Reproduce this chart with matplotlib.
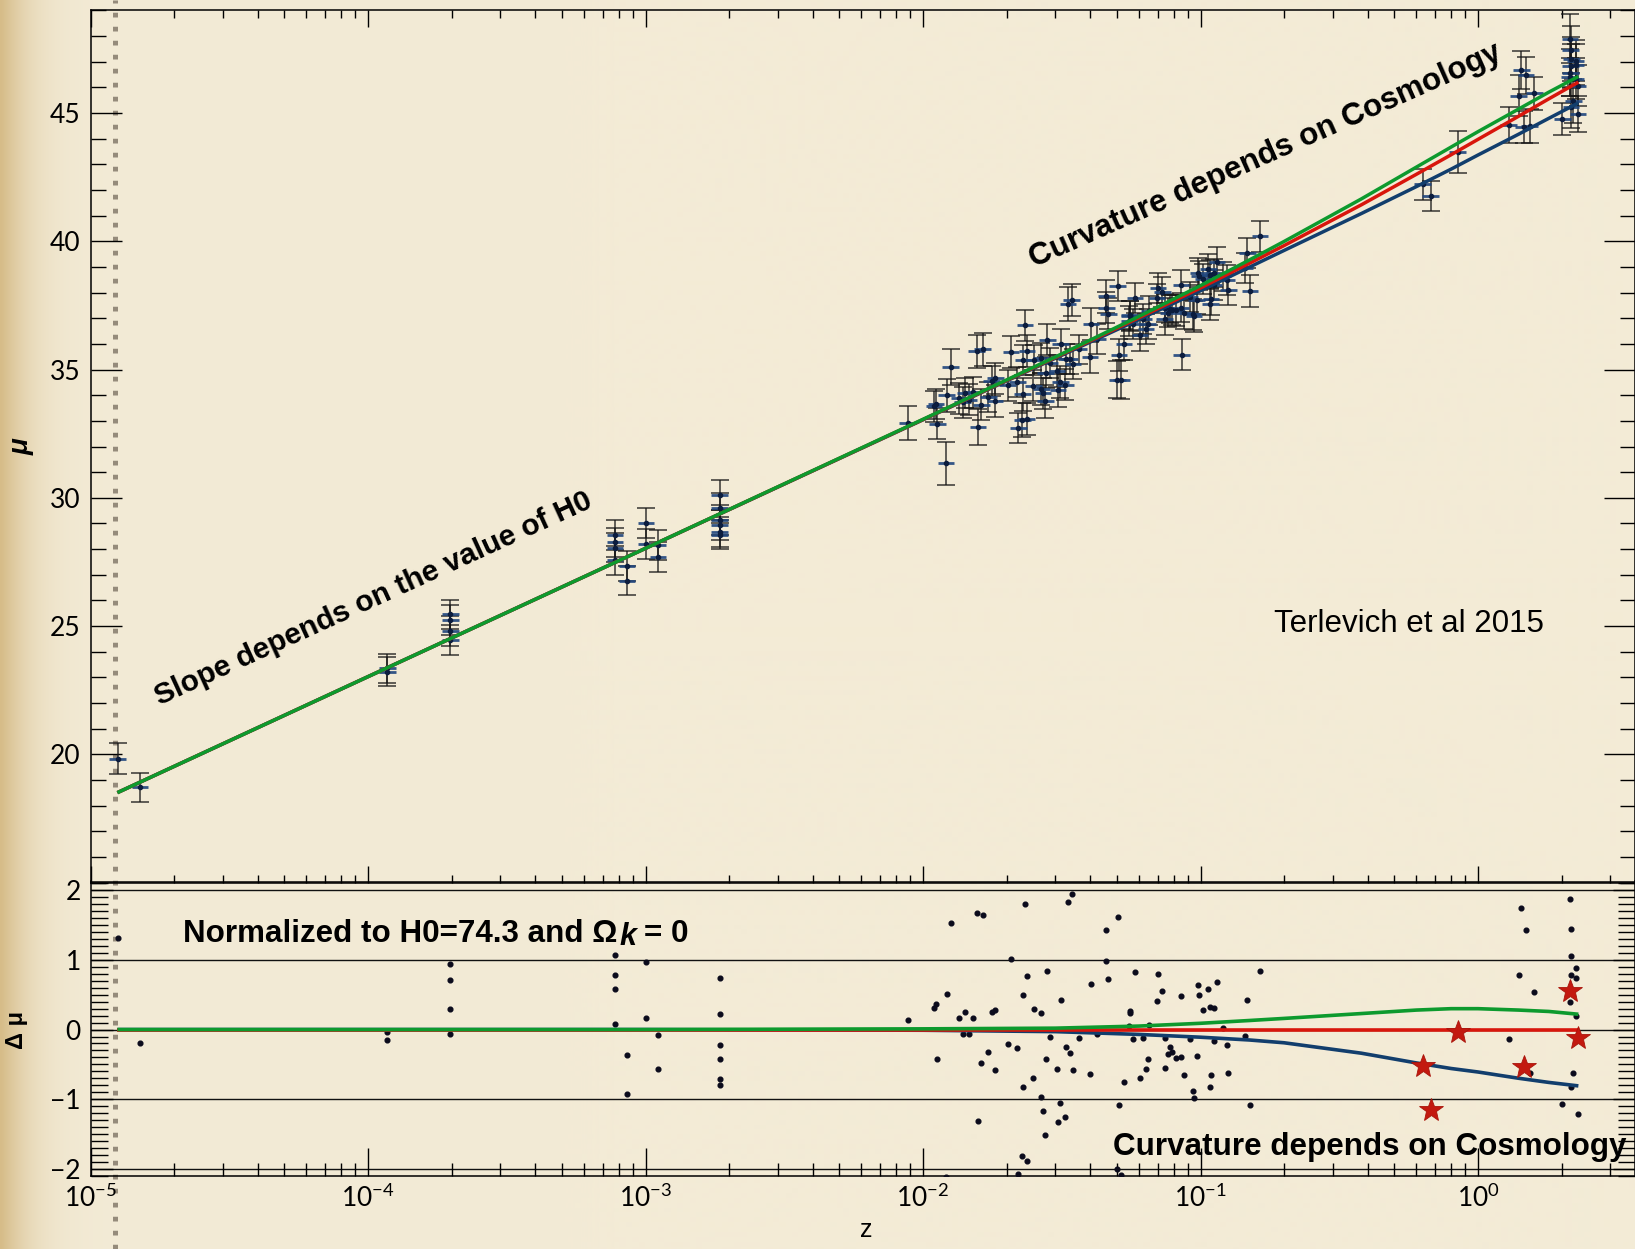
import numpy as np
import matplotlib
matplotlib.use('Agg')
import matplotlib.pyplot as plt
from matplotlib.lines import Line2D
from matplotlib.ticker import MultipleLocator, LogLocator, NullFormatter, FixedLocator

plt.rcParams['font.family'] = ['Lato', 'DejaVu Sans']
plt.rcParams['mathtext.fontset'] = 'custom'
plt.rcParams['mathtext.rm'] = 'Lato'
plt.rcParams['mathtext.it'] = 'Lato:italic'
plt.rcParams['mathtext.bf'] = 'Lato:bold'

# ---------------- data ----------------
# model curves: redshift grid and distance modulus for the three cosmologies
z_model = [1.25e-5, 1e-4, 1e-3, 1e-2, 0.03, 0.06, 0.1, 0.15, 0.2, 0.38, 0.6, 0.8, 1.0, 1.4, 1.8, 2.3]
mu_red = [18.51, 23.03, 28.03, 33.05, 35.47, 37.02, 38.18, 39.14, 39.83, 41.42, 42.61, 43.37, 43.97, 44.87, 45.55, 46.20]
mu_green = [18.51, 23.03, 28.03, 33.06, 35.49, 37.07, 38.27, 39.27, 39.99, 41.65, 42.89, 43.67, 44.27, 45.15, 45.81, 46.42]
mu_blue = [18.51, 23.03, 28.03, 33.04, 35.44, 36.95, 38.07, 38.99, 39.64, 41.08, 42.13, 42.81, 43.36, 44.17, 44.79, 45.39]
dmu_green = [0, 0, 0, 0.01, 0.02, 0.05, 0.09, 0.13, 0.16, 0.23, 0.28, 0.30, 0.30, 0.28, 0.26, 0.22]
dmu_red = [0, 0, 0, 0, 0, 0, 0, 0, 0, 0, 0, 0, 0, 0, 0, 0]
dmu_blue = [0, 0, 0, -0.01, -0.03, -0.07, -0.11, -0.15, -0.19, -0.34, -0.48, -0.56, -0.61, -0.70, -0.76, -0.81]

# local calibrators (z < 0.003): redshift, residual, error
loc_z = [1.253e-5, 1.507e-5, 1.175e-4, 1.175e-4, 1.982e-4, 1.982e-4, 1.982e-4, 1.982e-4,
         7.76e-4, 7.76e-4, 7.76e-4, 7.76e-4, 8.57e-4, 8.57e-4, 1.005e-3, 1.005e-3,
         1.109e-3, 1.109e-3, 1.849e-3, 1.849e-3, 1.849e-3, 1.849e-3, 1.849e-3, 1.849e-3]
loc_dmu = [1.31, -0.20, -0.03, -0.15, 0.94, 0.71, 0.30, -0.06, 1.07, 0.78, 0.58, 0.08,
           -0.36, -0.92, 0.97, 0.16, -0.08, -0.57, 0.74, 0.23, -0.22, -0.42, -0.71, -0.80]
loc_err = [0.60, 0.56, 0.55, 0.55, 0.58, 0.58, 0.58, 0.58, 0.58, 0.58, 0.58, 0.58,
           0.58, 0.58, 0.58, 0.58, 0.58, 0.58, 0.58, 0.58, 0.58, 0.58, 0.58, 0.58]

# HII galaxies (0.008 < z < 0.2)
hii_z = [0.00881, 0.01096, 0.01114, 0.01216, 0.01259, 0.01127, 0.01352, 0.01422, 0.01390, 0.01459,
         0.01510, 0.01563, 0.01641, 0.01622, 0.01722, 0.01770, 0.01824, 0.01820, 0.01578, 0.02018,
         0.02075, 0.02188, 0.02291, 0.02371, 0.02333, 0.02286, 0.02280, 0.02366, 0.02203, 0.02495,
         0.02518, 0.02661, 0.02673, 0.02710, 0.02761, 0.02767, 0.02805, 0.02871, 0.03041, 0.03069,
         0.03133, 0.03126, 0.03258, 0.03273, 0.03381, 0.03334, 0.03436, 0.03475, 0.03639, 0.03999,
         0.04036, 0.04246, 0.04581, 0.04581, 0.04656, 0.05035, 0.05082, 0.05297, 0.05559, 0.05559,
         0.05702, 0.05808, 0.06053, 0.05012, 0.05188, 0.01211, 0.05534,
         0.06223, 0.06471, 0.06546, 0.06353, 0.06966, 0.07031, 0.07295, 0.07430, 0.07464, 0.07638,
         0.07780, 0.07925, 0.08147, 0.08472, 0.08511, 0.08750, 0.09162, 0.09397, 0.09484, 0.09683,
         0.09817, 0.09886, 0.10233, 0.10666, 0.10789, 0.11220, 0.11194, 0.10914, 0.10864, 0.11482,
         0.12023, 0.12474, 0.12589, 0.14421, 0.14757, 0.15101, 0.16406, 0.0855]
hii_dmu = [0.14, 0.31, 0.37, 0.51, 1.53, -0.42, 0.17, 0.25, -0.06, -0.06,
           0.16, 1.67, 1.65, -0.48, -0.32, 0.25, 0.28, -0.58, -1.31, -0.21,
           1.02, -0.26, 0.50, 0.77, 1.80, -0.83, -1.82, -1.89, -2.07, -0.69,
           0.29, 0.24, -0.97, -1.17, -1.52, -0.42, 0.84, -0.11, -0.56, -1.33,
           0.43, -1.05, -1.25, -0.25, -0.33, 1.84, 1.95, -0.58, -0.12, -0.64,
           0.65, -0.06, 1.43, 0.99, 0.72, 1.62, -1.08, -0.76, 0.27, 0.24,
           -0.13, 0.83, -0.70, -2.01, -2.09, -2.12, 0.05,
           -0.12, -0.42, 0.07, -0.57, 0.41, 0.80, 0.56, -0.55, -0.12, -0.35,
           -0.25, -0.32, -0.41, -0.39, 0.48, -0.66, -0.14, -0.89, -0.99, -0.38,
           0.64, 0.50, 0.28, 0.58, 0.33, 0.31, -0.16, -0.65, -0.83, 0.69,
           0.02, -0.22, -0.62, -0.09, 0.43, -1.08, 0.84, -2.24]
hii_err = [0.66, 0.62, 0.60, 0.64, 0.70, 0.62, 0.60, 0.58, 0.62, 0.60,
           0.60, 0.66, 0.64, 0.62, 0.60, 0.58, 0.60, 0.62, 0.70, 0.60,
           0.62, 0.60, 0.58, 0.62, 0.61, 0.64, 0.66, 0.62, 0.60, 0.62,
           0.58, 0.60, 0.62, 0.60, 0.64, 0.60, 0.60, 0.58, 0.62, 0.64,
           0.60, 0.62, 0.60, 0.58, 0.60, 0.66, 0.62, 0.60, 0.58, 0.60,
           0.62, 0.58, 0.64, 0.60, 0.60, 0.58, 0.62, 0.60, 0.56, 0.58,
           0.60, 0.58, 0.60, 0.72, 0.75, 0.84, 0.58,
           0.58, 0.60, 0.56, 0.60, 0.58, 0.60, 0.58, 0.62, 0.56, 0.58,
           0.56, 0.58, 0.60, 0.58, 0.60, 0.62, 0.58, 0.60, 0.60, 0.58,
           0.58, 0.56, 0.58, 0.60, 0.56, 0.56, 0.58, 0.60, 0.62, 0.58,
           0.56, 0.58, 0.60, 0.60, 0.58, 0.62, 0.60, 0.60]

# high-redshift HII galaxies
hz_z = [1.432, 1.489, 1.403, 1.596, 1.291, 1.535, 2.148, 2.158, 2.168, 2.249, 2.158, 2.254,
        2.138, 2.249, 2.203, 2.163, 2.014, 2.296]
hz_dmu = [1.74, 1.43, 0.79, 0.54, -0.13, -0.63, 1.87, 1.44, 1.05, 0.89, 0.79, 0.74,
          0.40, 0.20, -0.63, -0.82, -1.07, -1.22]
hz_err = [0.75, 0.72, 0.80, 0.65, 0.70, 0.66, 0.95, 0.90, 0.85, 0.80, 0.85, 0.80,
          0.75, 0.80, 0.85, 0.80, 0.62, 0.70]

# objects marked with red stars in the residual panel
st_z = [0.632, 0.676, 0.845, 1.462, 2.153, 2.286]
st_dmu = [-0.53, -1.16, -0.04, -0.54, 0.55, -0.12]
st_err = [0.60, 0.60, 0.80, 0.62, 0.90, 0.80]

upper_yticks = [20, 25, 30, 35, 40, 45]
lower_yticks = [-2, -1, 0, 1, 2]
lower_grid = [-2, -1, 0, 1, 2]

# ---------------- styling ----------------
W, H = 1635, 1249
BEIGE = np.array([243, 235, 214]) / 255.0
TAN = np.array([214, 188, 136]) / 255.0
C_GREEN = '#0d9a2e'
C_RED = '#d8160c'
C_BLUE = '#123e6d'
C_NAVY = '#0c1d3e'
C_XERR = '#1f457d'
C_STAR = '#c3190f'
XERR_DEX = 0.03

fig = plt.figure(figsize=(W / 100, H / 100), dpi=100)
fig.patch.set_facecolor(BEIGE)

# parchment background with darker left edge
bg = fig.add_axes([0, 0, 1, 1], zorder=-10)
xs = np.arange(W)
t = np.exp(-(xs / 30.0) ** 1.2)
grad = BEIGE[None, :] * (1 - t[:, None]) + TAN[None, :] * t[:, None]
bg.imshow(grad[None, :, :], aspect='auto', extent=[0, 1, 0, 1])
bg.set_axis_off()

# dotted slide decoration
fig.add_artist(Line2D([115 / W, 115 / W], [0, 1], transform=fig.transFigure,
                      color='#857b6c', lw=3.6, linestyle=(0, (0.95, 1.85)), alpha=0.85,
                      zorder=-5))

LPX, RPX = 90.5, W
left = LPX / W
width = (RPX - LPX) / W
xmax = 10 ** ((RPX - LPX) / 277.5 - 5)

ax1 = fig.add_axes([left, 1 - 882.7 / H, width, (882.7 - 10.3) / H])
ax2 = fig.add_axes([left, 1 - 1176 / H, width, (1176 - 881.5) / H])
for ax in (ax1, ax2):
    ax.set_facecolor('none')
    ax.set_xscale('log')
    ax.set_xlim(1e-5, xmax)
    for s in ax.spines.values():
        s.set_linewidth(1.1)
    ax.xaxis.set_major_locator(LogLocator(base=10, numticks=20))
    ax.xaxis.set_minor_locator(LogLocator(base=10, subs=np.arange(2, 10), numticks=20))
    ax.xaxis.set_minor_formatter(NullFormatter())

# ---------------- upper panel ----------------
zm = np.array(z_model)
lzm = np.log10(zm)


def model_mu(z):
    return np.interp(np.log10(z), lzm, mu_red)


all_z = np.concatenate([loc_z, hii_z, hz_z, st_z])
all_d = np.concatenate([loc_dmu, hii_dmu, hz_dmu, st_dmu])
all_e = np.concatenate([loc_err, hii_err, hz_err, st_err])
all_mu = model_mu(all_z) + all_d

ax1.errorbar(all_z, all_mu, yerr=all_e, fmt='none', ecolor='#161616', elinewidth=1.1,
             capsize=6.2, capthick=1.1, alpha=0.85, zorder=2)
xlo = all_z - all_z / 10 ** XERR_DEX
xhi = all_z * 10 ** XERR_DEX - all_z
ax1.errorbar(all_z, all_mu, xerr=[xlo, xhi], fmt='none', ecolor=C_XERR, elinewidth=2.0,
             alpha=0.9, zorder=3)
ax1.plot(all_z, all_mu, 'o', ms=3.0, color=C_NAVY, zorder=4)

ax1.plot(zm, mu_blue, color=C_BLUE, lw=2.5, zorder=5, solid_capstyle='butt')
ax1.plot(zm, mu_red, color=C_RED, lw=2.5, zorder=6, solid_capstyle='butt')
ax1.plot(zm, mu_green, color=C_GREEN, lw=2.5, zorder=7, solid_capstyle='butt')

ax1.set_ylim(15, 49)
ax1.yaxis.set_major_locator(FixedLocator(upper_yticks))
ax1.yaxis.set_minor_locator(MultipleLocator(1))
ax1.tick_params(axis='x', which='major', direction='in', length=12, width=1.0,
                top=True, bottom=True, labelbottom=False)
ax1.tick_params(axis='x', which='minor', direction='in', length=6, width=1.0,
                top=True, bottom=True)
ax1.tick_params(axis='y', which='major', direction='in', length=22, width=1.0,
                left=True, right=True, labelsize=19, pad=7)
ax1.tick_params(axis='y', which='minor', direction='in', length=11, width=1.0,
                left=True, right=True)

# ---------------- lower panel ----------------
for g in lower_grid:
    ax2.axhline(g, color='#111111', lw=1.0, zorder=1)
dot_z = np.concatenate([loc_z, hii_z, hz_z])
dot_d = np.concatenate([loc_dmu, hii_dmu, hz_dmu])
ax2.plot(dot_z, dot_d, 'o', ms=3.4, color='#0b0b1c', zorder=3)
ax2.plot(zm, dmu_blue, color=C_BLUE, lw=2.6, zorder=4, solid_capstyle='butt')
ax2.plot(zm, dmu_red, color=C_RED, lw=2.6, zorder=5, solid_capstyle='butt')
ax2.plot(zm, dmu_green, color=C_GREEN, lw=2.6, zorder=6, solid_capstyle='butt')
ax2.plot(st_z, st_dmu, '*', ms=18, color=C_STAR, mec='#a8140a', mew=0.6, zorder=7)

ax2.set_ylim(-2.105, 2.128)
ax2.yaxis.set_major_locator(FixedLocator(lower_yticks))
ax2.yaxis.set_minor_locator(MultipleLocator(0.1))
ax2.tick_params(axis='x', which='major', direction='in', length=20, width=1.0,
                top=False, bottom=True, labelsize=19, pad=6)
ax2.tick_params(axis='x', which='minor', direction='in', length=9.5, width=1.0,
                top=False, bottom=True)
ax2.tick_params(axis='y', which='major', direction='in', length=16, width=1.0,
                left=True, right=True, labelsize=19, pad=7)
ax2.tick_params(axis='y', which='minor', direction='in', length=12, width=1.0,
                left=True, right=True)

# ---------------- text ----------------
BOLD = dict(family=['Liberation Sans', 'DejaVu Sans'], fontweight='bold')


def fx(X):
    return X / W


def fy(Y):
    return 1 - Y / H


fig.text(fx(160), fy(706), 'Slope depends on the value of H0', fontsize=21.5,
         rotation=24.6, rotation_mode='anchor', ha='left', va='baseline', **BOLD)
fig.text(fx(1034), fy(268), 'Curvature depends on Cosmology', fontsize=22.6,
         rotation=24.0, rotation_mode='anchor', ha='left', va='baseline', **BOLD)
fig.text(fx(1274), fy(631.7), 'Terlevich et al 2015', fontsize=22.5,
         family=['Liberation Sans', 'DejaVu Sans'], ha='left', va='baseline')
fig.text(fx(1113), fy(1155), 'Curvature depends on Cosmology', fontsize=22.6,
         ha='left', va='baseline', zorder=10, **BOLD)

t1 = fig.text(fx(183), fy(941.7), 'Normalized to H0=74.3 and Ω', fontsize=22.6,
              ha='left', va='baseline', **BOLD)
fig.canvas.draw()
r = fig.canvas.get_renderer()
b1 = t1.get_window_extent(r)
t2 = fig.text((b1.x1 + 2) / W, fy(945.2), 'k', fontsize=22, style='italic',
              ha='left', va='baseline', **BOLD)
b2 = t2.get_window_extent(r)
fig.text((b2.x1 + 8) / W, fy(941.7), '= 0', fontsize=22.6, ha='left', va='baseline', **BOLD)

fig.text(fx(22), fy(447), 'μ', fontsize=20, rotation=90, ha='center', va='center',
         style='italic', **BOLD)
fig.text(fx(16), fy(1030), 'Δ μ', fontsize=17, rotation=90, ha='center', va='center', **BOLD)
fig.text(fx(866), fy(1230), 'z', fontsize=18, ha='center', va='center',
         family=['Liberation Sans', 'DejaVu Sans'])

fig.savefig('out.png', dpi=100, facecolor=fig.get_facecolor())
